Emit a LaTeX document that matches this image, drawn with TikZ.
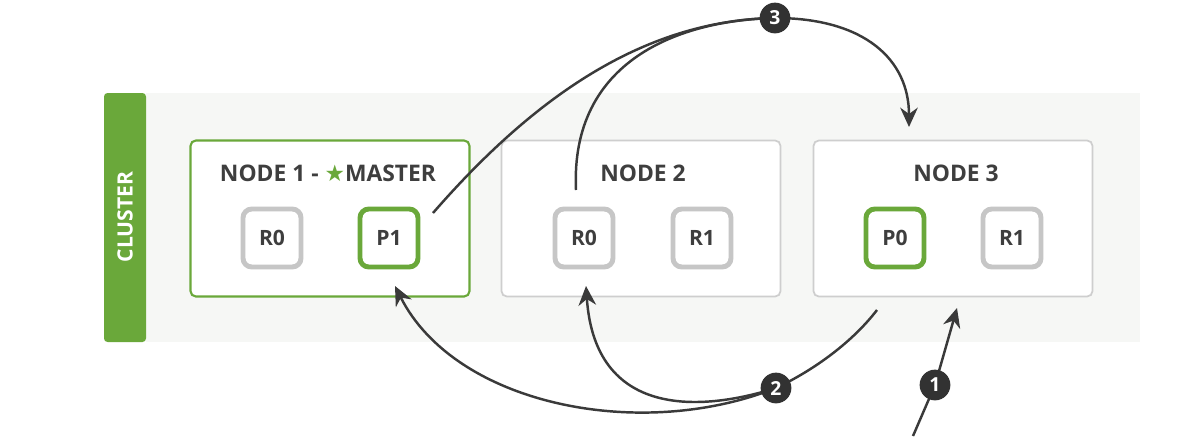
\documentclass[tikz,border=0pt]{standalone}
\usepackage{fontspec}
\setmainfont{Open Sans}
\newfontfamily\starfont{DejaVu Sans}
\usetikzlibrary{arrows.meta}
\definecolor{esgreen}{RGB}{106,168,58}
\definecolor{boxgray}{RGB}{206,206,206}
\definecolor{shardgray}{RGB}{198,198,198}
\definecolor{panelgray}{RGB}{246,247,245}
\definecolor{textgray}{RGB}{62,62,62}
\definecolor{arrowgray}{RGB}{58,58,58}
\definecolor{numgray}{RGB}{50,50,50}
\begin{document}
\begin{tikzpicture}[
    x=0.02cm, y=-0.02cm,
    server/.style={draw=boxgray, line width=1pt, fill=white, rounded corners=3pt,
        minimum width=5.58cm, minimum height=3.12cm},
    master/.style={server, draw=esgreen, line width=1.2pt},
    title/.style={text=textgray, font=\fontsize{13}{13}\selectfont\bfseries},
    replica/.style={draw=shardgray, line width=2.8pt, fill=white, rounded corners=5pt,
        minimum size=1.16cm, text=textgray, font=\fontsize{12}{12}\selectfont\bfseries},
    primary/.style={replica, draw=esgreen},
    link/.style={draw=arrowgray, line width=1.4pt},
    flow/.style={link, -{Stealth[length=11pt,width=10pt]}},
    num/.style={circle, fill=numgray, text=white, inner sep=0pt, minimum size=17.5pt,
        font=\fontsize{11}{11}\selectfont\bfseries}
    ]
    \useasboundingbox (0,0) rectangle (1198,440);

    % cluster panel
    \fill[panelgray] (146,93) rectangle (1140,342);
    \fill[esgreen, rounded corners=2pt] (104,93) rectangle (146,342);
    \node[rotate=90, text=white, font=\fontsize{12}{12}\selectfont\bfseries] (cluster) at (125,217) {CLUSTER};

    % servers
    \node[master] (node1) at (330,218.5) {};
    \node[server] (node2) at (641,218.5) {};
    \node[server] (node3) at (953,218.5) {};

    \node[title] (title1) at (328,173) {NODE 1 - \textcolor{esgreen}{\starfont ★}MASTER};
    \node[title] (title2) at (643,173) {NODE 2};
    \node[title] (title3) at (956,173) {NODE 3};

    % shards
    \node[replica] (n1r0) at (272,238) {R0};
    \node[primary] (n1p1) at (389,238) {P1};
    \node[replica] (n2r0) at (584,238) {R0};
    \node[replica] (n2r1) at (702,238) {R1};
    \node[primary] (n3p0) at (895,238) {P0};
    \node[replica] (n3r1) at (1012,238) {R1};

    % steps
    \coordinate (s1) at (935,385);
    \coordinate (s2) at (776,388);
    \coordinate (s3) at (775,18);
    \coordinate (req) at (913,436);
    \coordinate (n3in) at (957,308);
    \coordinate (n3out) at (877,310);
    \coordinate (p1in) at (395,286);
    \coordinate (r0in) at (586,286);
    \coordinate (p1out) at (433,213);
    \coordinate (r0out) at (576,190);
    \coordinate (n3top) at (909,127);

    \draw[link] (req) -- (s1);
    \draw[flow] (s1) -- (n3in);

    \draw[link] (n3out) .. controls (850,345) and (810,372) .. (s2);
    \draw[flow] (s2) .. controls (640,442) and (455,405) .. (p1in);
    \draw[flow] (s2) .. controls (700,412) and (595,418) .. (r0in);

    \draw[link] (p1out) .. controls (540,90) and (650,20) .. (s3);
    \draw[link] (r0out) .. controls (570,60) and (680,20) .. (s3);
    \draw[flow] (s3) .. controls (865,18) and (909,60) .. (n3top);

    \node[num] (num1) at (s1) {1};
    \node[num] (num2) at (s2) {2};
    \node[num] (num3) at (s3) {3};

\end{tikzpicture}
\end{document}
